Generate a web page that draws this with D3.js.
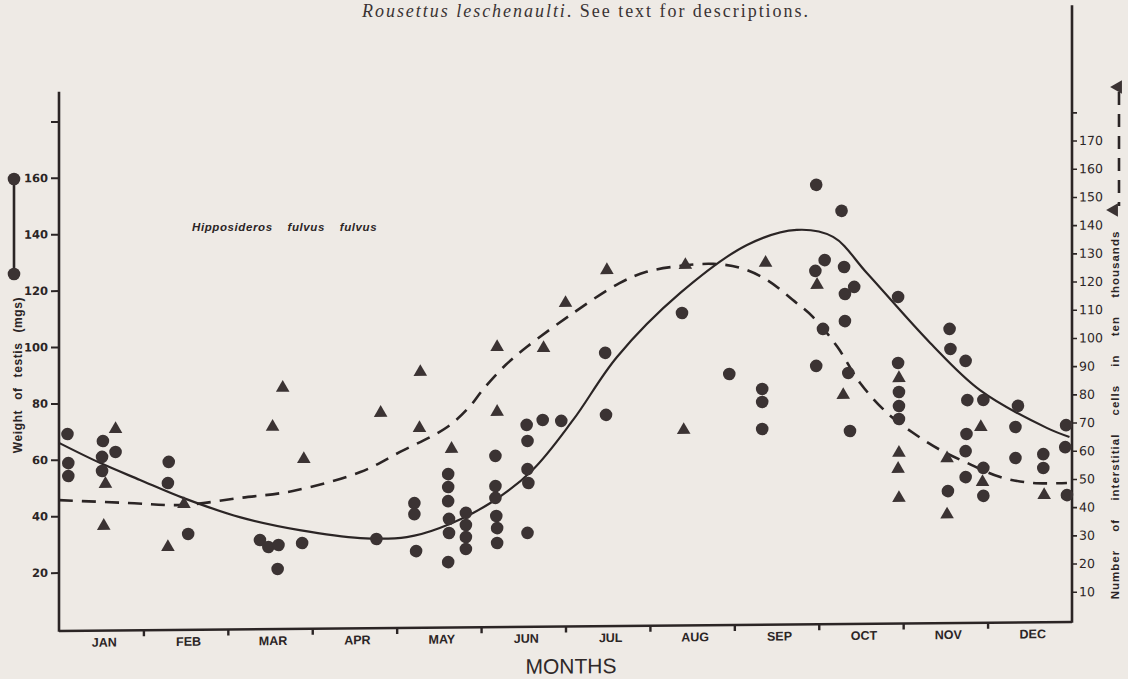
<!DOCTYPE html>
<html><head><meta charset="utf-8">
<script src="https://cdn.jsdelivr.net/npm/d3@7"></script>
<style>
html,body{margin:0;padding:0;background:#eeeae5;}
svg{display:block;}
</style></head>
<body>
<svg id="chart" width="1128" height="679"></svg>
<script>
// ---------- data ----------
const months = ["JAN","FEB","MAR","APR","MAY","JUN","JUL","AUG","SEP","OCT","NOV","DEC"];
const leftTicks = [20,40,60,80,100,120,140,160,180];
const leftTickLabels = ["20","40","60","80","100","120","140","160",""];
const rightTicks = [10,20,30,40,50,60,70,80,90,100,110,120,130,140,150,160,170,180];
const rightTickLabels = ["10","20","30","40","50","60","70","80","90","100","110","120","130","140","150","160","170",""];

// fitted curve: weight of testis (solid, left axis) - month position, mg
const weightCurveMonth = [0,0.49,0.96,1.47,2.14,2.85,3.57,4.12,4.51,5.11,5.61,6.09,6.61,7.36,8.15,8.74,9.17,9.57,10.32,10.91,11.70,11.97];
const weightCurveValue = [66,58.7,52.6,46.1,39.1,34.3,31.3,31.5,34.6,43.3,54.9,72.5,94.7,117.2,134.0,139.2,136.6,123.7,98.7,81.8,68.2,64.9];

// fitted curve: interstitial cells (dashed, right axis) - month position, x10^4
const cellsCurveMonth = [0,0.8,1.47,2.14,2.77,3.57,4.04,4.60,4.86,5.02,5.29,5.54,6.09,6.64,6.96,7.36,7.75,8.07,8.39,8.69,8.93,9.22,9.49,9.81,10.12,10.44,10.76,11.15,11.54,11.94];
const cellsCurveValue = [45.7,44.5,43.6,45.9,48.2,54.7,61.7,70.4,77.4,83.5,92.2,98.5,110.4,120.9,124.8,126.8,127.4,125.9,121.5,114.4,108.3,97.6,84.7,74.0,66.8,60.7,56.0,50.9,48.7,48.6];

// observations: testis weight (circles)
const circleMonth = [0.10,0.11,0.11,0.52,0.51,0.51,0.67,1.30,1.29,1.53,2.38,2.48,2.60,2.59,2.88,3.76,4.21,4.21,4.23,4.61,4.61,4.61,4.62,4.62,4.61,4.82,4.82,4.82,4.82,5.17,5.17,5.17,5.18,5.19,5.19,5.54,5.55,5.55,5.56,5.55,5.73,5.95,6.47,6.48,7.38,7.94,8.33,8.33,8.33,8.97,9.27,9.07,8.96,9.30,9.42,9.31,9.31,9.05,8.97,9.35,9.37,9.94,9.94,9.95,9.95,9.95,10.55,10.56,10.74,10.76,10.95,10.75,10.74,10.74,10.95,10.95,10.53,11.36,11.33,11.33,11.66,11.66,11.93,11.92,11.94];
const circleWeight = [69.1,58.8,54.2,66.5,60.9,55.9,62.6,58.9,51.4,33.3,30.9,28.4,29.1,20.6,29.7,30.9,43.5,39.6,26.5,53.7,49.1,44.1,37.8,32.8,22.5,39.9,35.6,31.3,27.1,60.0,49.3,45.1,38.7,34.4,29.1,70.9,65.2,55.2,50.3,32.6,72.6,72.2,96.2,74.2,110.1,88.3,82.9,78.3,68.7,155.1,145.8,128.4,124.6,125.9,118.8,116.3,106.7,104.0,90.9,88.3,67.7,115.1,91.7,81.4,76.4,71.8,103.6,96.5,92.2,78.3,78.3,66.3,60.2,51.0,54.2,44.3,46.1,76.1,68.6,57.6,58.9,54.0,69.1,61.3,44.3];

// observations: interstitial cells (triangles)
const triangleMonth = [0.67,0.55,0.53,1.48,1.29,2.53,2.65,2.90,3.81,4.28,4.27,4.65,5.19,5.19,5.74,6.00,6.49,7.42,8.37,8.98,7.40,9.29,9.95,9.95,9.94,9.95,10.52,10.52,10.92,10.94,11.67];
const triangleCells = [70.7,51.3,36.4,43.9,28.7,71.0,84.8,59.5,75.6,90.0,70.1,62.6,98.6,75.6,98.1,114.0,125.5,127.1,127.6,119.6,68.6,80.5,86.3,59.8,54.1,43.8,57.7,37.8,68.7,49.2,44.4];

// ---------- drawing ----------
const INK = "#2b2525";
const DOT = "#3b3333";
const svg = d3.select("#chart");
svg.append("rect").attr("width",1128).attr("height",679).attr("fill","#eeeae5");

const x = d3.scaleLinear().domain([0,12]).range([59,1072]);
const yL = d3.scaleLinear().domain([0,100]).range([629,347]);
const yR = d3.scaleLinear().domain([0,100]).range([629,347]);

// the scanned plate is very slightly tilted
const g = svg.append("g").attr("transform","translate(58,629) skewY(-0.51) translate(-58,-629)");

// left axis
const la = g.append("g").attr("transform",`translate(${x(0)},0)`)
  .call(d3.axisLeft(yL).tickValues(leftTicks).tickSize(8).tickPadding(3)
    .tickFormat((d,i)=>leftTickLabels[i]));
la.select(".domain").remove();
la.selectAll("line").attr("stroke",INK).attr("stroke-width",2);
la.selectAll("text").attr("fill",INK).attr("font-family","DejaVu Sans").attr("font-weight","bold").attr("font-size",11.5);
g.append("line").attr("x1",x(0)).attr("x2",x(0)).attr("y1",yL(-1)).attr("y2",yL(190.5))
  .attr("stroke",INK).attr("stroke-width",2.6);

// right axis
const ra = g.append("g").attr("transform",`translate(${x(12)},0)`)
  .call(d3.axisRight(yR).tickValues(rightTicks).tickSize(5).tickPadding(2)
    .tickFormat((d,i)=>rightTickLabels[i]));
ra.select(".domain").remove();
ra.selectAll("line").attr("stroke",INK).attr("stroke-width",1.6);
ra.selectAll("text").attr("fill",INK).attr("font-family","DejaVu Sans").attr("font-size",12.5);
g.append("line").attr("x1",x(12)).attr("x2",x(12)).attr("y1",yR(-1)).attr("y2",yR(218))
  .attr("stroke",INK).attr("stroke-width",2.6);

// bottom axis
const ba = g.append("g").attr("transform",`translate(0,${yL(0)+2})`)
  .call(d3.axisBottom(x).tickValues(d3.range(1,12)).tickSize(6).tickFormat(""));
ba.select(".domain").remove();
ba.selectAll("line").attr("stroke",INK).attr("stroke-width",2.4);
g.append("line").attr("x1",x(0)).attr("x2",x(12)).attr("y1",yL(0)+2).attr("y2",yL(0)+2)
  .attr("stroke",INK).attr("stroke-width",2.6);
g.append("g").selectAll("text").data(months).join("text")
  .attr("x",(d,i)=>x(i+0.5)+3).attr("y",yL(0)+18)
  .attr("text-anchor","middle").attr("fill",INK)
  .attr("font-family","Liberation Sans").attr("font-weight","bold").attr("font-size",12.5)
  .text(d=>d);
g.append("text").attr("x",571).attr("y",678).attr("text-anchor","middle")
  .attr("fill","#2f2929").attr("font-family","Liberation Sans").attr("font-size",21)
  .text("MONTHS");

// curves
const lineW = d3.line().x((d,i)=>x(weightCurveMonth[i])).y(d=>yL(d)).curve(d3.curveCatmullRom.alpha(0.5));
g.append("path").attr("d",lineW(weightCurveValue)).attr("fill","none")
  .attr("stroke",INK).attr("stroke-width",2.2);
const lineC = d3.line().x((d,i)=>x(cellsCurveMonth[i])).y(d=>yR(d)).curve(d3.curveCatmullRom.alpha(0.5));
g.append("path").attr("d",lineC(cellsCurveValue)).attr("fill","none")
  .attr("stroke",INK).attr("stroke-width",2.6).attr("stroke-dasharray","14,9");

// observations
g.append("g").selectAll("circle").data(circleWeight).join("circle")
  .attr("cx",(d,i)=>x(circleMonth[i])).attr("cy",d=>yL(d)).attr("r",6.3).attr("fill",DOT);
const tri = d3.symbol(d3.symbolTriangle).size(80);
g.append("g").selectAll("path").data(triangleCells).join("path")
  .attr("d",tri).attr("transform",(d,i)=>`translate(${x(triangleMonth[i])},${yR(d)})`).attr("fill",DOT);

// legends
svg.append("line").attr("x1",14).attr("x2",14).attr("y1",179).attr("y2",274).attr("stroke",INK).attr("stroke-width",2.6);
svg.append("circle").attr("cx",14).attr("cy",179).attr("r",6.3).attr("fill",DOT);
svg.append("circle").attr("cx",14).attr("cy",274).attr("r",6.3).attr("fill",DOT);
svg.append("line").attr("x1",1119).attr("x2",1119).attr("y1",92).attr("y2",206).attr("stroke",INK)
  .attr("stroke-width",2.6).attr("stroke-dasharray","13,9");
svg.append("path").attr("d",tri).attr("transform","translate(1118,87) rotate(-90)").attr("fill",DOT);
svg.append("path").attr("d",tri).attr("transform","translate(1114,210) rotate(-90)").attr("fill",DOT);

// axis titles
svg.append("text").attr("transform","translate(22,375) rotate(-90)").attr("text-anchor","middle")
  .attr("fill",INK).attr("font-family","Liberation Sans").attr("font-weight","bold").attr("font-size",12)
  .attr("letter-spacing",0.6).attr("word-spacing",6)
  .text("Weight of testis (mgs)");
svg.append("text").attr("transform","translate(1119,415) rotate(-90)").attr("text-anchor","middle")
  .attr("fill",INK).attr("font-family","Liberation Sans").attr("font-weight","bold").attr("font-size",11.5)
  .attr("letter-spacing",1).attr("word-spacing",14)
  .text("Number of interstitial cells in ten thousands");

// species label
svg.append("text").attr("x",192).attr("y",231).attr("fill",INK)
  .attr("font-family","Liberation Sans").attr("font-weight","bold").attr("font-style","italic").attr("font-size",11.5)
  .attr("letter-spacing",0.6).attr("word-spacing",11)
  .text("Hipposideros fulvus fulvus");

// caption
const cap = svg.append("text").attr("x",362).attr("y",17).attr("fill","#3a3333")
  .attr("font-family","Liberation Serif").attr("font-size",18)
  .attr("textLength",446).attr("lengthAdjust","spacing");
cap.append("tspan").attr("font-style","italic").text("Rousettus leschenaulti");
cap.append("tspan").text(". See text for descriptions.");
</script>
</body></html>
